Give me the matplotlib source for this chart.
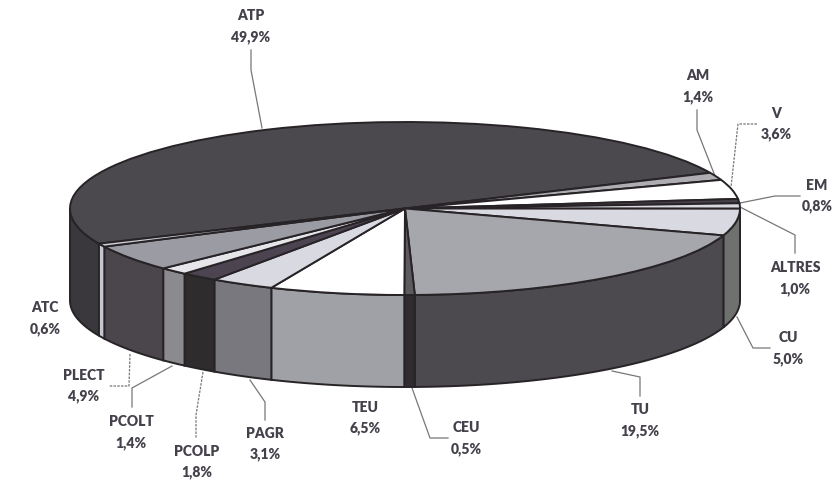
"""3D-look pie, top face from ax.pie squashed to an ellipse, walls added by hand."""
import numpy as np
import matplotlib
matplotlib.use("Agg")
import matplotlib.pyplot as plt
from matplotlib.patches import Polygon
from matplotlib.transforms import Affine2D

plt.rcParams["font.family"] = ["Lato", "DejaVu Sans"]

# clockwise from the big slice
names = ["ATP", "AM", "V", "EM", "ALTRES", "CU", "TU", "CEU", "TEU", "PAGR", "PCOLP", "PCOLT", "PLECT", "ATC"]
shares = [49.9, 1.4, 3.6, 0.8, 1.0, 5.0, 19.5, 0.5, 6.5, 3.1, 1.8, 1.4, 4.9, 0.6]
top_cols = ["#4b484e", "#aeaeb2", "#ffffff", "#47424a", "#d8d8de", "#d9d9e1", "#a6a7ac", "#5d5b5f",
            "#ffffff", "#d9d9e1", "#4c4450", "#e6e6ea", "#9b9ba3", "#d0d0d8"]
side_cols = ["#3a383c", "#77777b", "#8a8a8e", "#47424a", "#77777b", "#6f716f", "#4c4a4e", "#2f2b2f",
             "#a0a1a6", "#78787e", "#2f2c2e", "#8b8b8f", "#4a464c", "#c6c6d2"]

START = 204.0
CX, CY, RX, RY, DEPTH = 405, 208.5, 335, 86.5, 92
EDGE = "#272326"

# label text centres + leader polylines, in image pixels
label_xy = {"ATP": (251, 16), "AM": (698, 76), "V": (776, 113), "EM": (817, 185), "ALTRES": (795, 268),
            "CU": (788, 338), "TU": (640, 410), "CEU": (466, 428), "TEU": (365, 407), "PAGR": (265, 433),
            "PCOLP": (197, 451), "PCOLT": (131, 422), "PLECT": (84, 375), "ATC": (45, 308)}
leaders = {"ATP": [(251, 50), (251, 70), (262, 128)], "AM": [(697, 110), (697, 130), (715, 176)],
           "V": [(757, 124), (738, 124), (731, 187)], "EM": [(800, 196), (775, 196), (740, 203)],
           "ALTRES": [(740, 207), (795, 235), (795, 253)], "CU": [(737, 317), (753, 348), (770, 348)],
           "TU": [(612, 371), (640, 377), (640, 396)], "CEU": [(412, 388), (430, 438), (448, 438)],
           "PAGR": [(250, 380), (265, 402), (265, 420)], "PCOLP": [(203, 372), (196, 415), (196, 438)],
           "PCOLT": [(172, 366), (132, 388), (132, 407)], "PLECT": [(130, 354), (129, 386), (109, 386)]}
dashed = {"V", "PCOLP", "PLECT"}

fig = plt.figure(figsize=(8.37, 4.88), dpi=100)
ax = fig.add_axes([0, 0, 1, 1])

wedges, _ = ax.pie(shares, colors=top_cols, startangle=START, counterclock=False,
                   wedgeprops=dict(edgecolor=EDGE, linewidth=1.4))
ax.set_aspect("auto")
ax.set_xlim(0, 837)
ax.set_ylim(488, 0)
ax.axis("off")
squash = Affine2D().scale(RX, -RY).translate(CX, CY) + ax.transData
for w in wedges:
    w.set_transform(squash)
    w.set_zorder(3)

# outer wall: only the part of each slice facing the viewer (180..360 deg)
frac = np.array(shares) / sum(shares)
ends = np.cumsum(frac) * 360
for i, name in enumerate(names):
    a0 = START - (ends[i - 1] if i else 0)
    a1 = START - ends[i]
    # normalise into a descending range that can overlap the front half
    lo, hi = min(a0, a1), max(a0, a1)
    for shift in (0, -360, 360):
        l, h = max(lo + shift, 180), min(hi + shift, 360)
        if h <= l:
            continue
        t = np.radians(np.linspace(l, h, 60))
        x = CX + RX * np.cos(t)
        y = CY - RY * np.sin(t)
        pts = np.r_[np.c_[x, y], np.c_[x, y + DEPTH][::-1]]
        ax.add_patch(Polygon(pts, closed=True, facecolor=side_cols[i], edgecolor=EDGE,
                             linewidth=1.4, zorder=2))

for name, pts in leaders.items():
    xs, ys = zip(*pts)
    ax.plot(xs, ys, color="#77777a", lw=0.9, ls=(0, (2, 1)) if name in dashed else "-", zorder=1)

for name, share in zip(names, shares):
    x, y = label_xy[name]
    ax.text(x, y, name, ha="center", va="center", fontsize=10, color="#45414b", fontweight="heavy")
    ax.text(x, y + 21, f"{share:.1f}%".replace(".", ","), ha="center", va="center", fontsize=10,
            color="#45414b", fontweight="heavy")

fig.savefig("out.png", dpi=100)
